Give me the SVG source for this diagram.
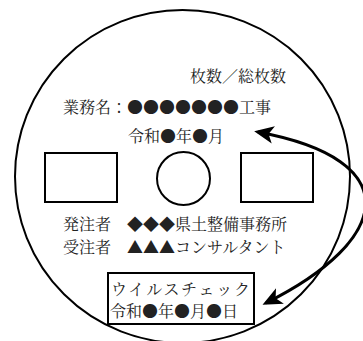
<svg xmlns="http://www.w3.org/2000/svg" width="363" height="341" viewBox="0 0 363 341">
<style>
.t{font-family:"Noto Serif CJK JP","Noto Sans CJK JP","Liberation Serif",serif;font-size:16px;fill:#222}
.s{fill:none;stroke:#000;stroke-width:2}
.c{fill:none;stroke:#000;stroke-width:3}
</style>
<defs>
<marker id="ah" viewBox="0 0 10 10" refX="8" refY="5" markerWidth="6.5" markerHeight="6.5" orient="auto-start-reverse" markerUnits="strokeWidth">
<path d="M0,0.5 L10,5 L0,9.5 L2.5,5 Z" fill="#000"/>
</marker>
</defs>
<rect width="363" height="341" fill="#fff"/>
<g id="disc">
<ellipse cx="182.5" cy="176.5" rx="167.5" ry="166.5" class="s" stroke-width="1.8"/>
</g>
<g id="pages"><text class="t" x="190" y="82">枚数／総枚数</text></g>
<g id="project"><text class="t" x="63" y="113">業務名：●●●●●●●工事</text></g>
<g id="date"><text class="t" x="128" y="142">令和●年●月</text></g>
<g id="rect-left"><rect x="45" y="153" width="72" height="49" class="s"/></g>
<g id="hole"><circle cx="183.5" cy="178.5" r="26.5" class="s" stroke-width="1.6"/></g>
<g id="rect-right"><rect x="241" y="153" width="72" height="49" class="s"/></g>
<g id="client"><text class="t" x="63" y="230">発注者　◆◆◆県土整備事務所</text></g>
<g id="contractor"><text class="t" x="63" y="253">受注者　▲▲▲コンサルタント</text></g>
<g id="viruscheck">
<rect x="108" y="273" width="146" height="51" class="s"/>
<text class="t" x="111" y="295" textLength="139" lengthAdjust="spacing">ウイルスチェック</text>
<text class="t" x="110" y="317">令和●年●月●日</text>
</g>
<g id="connectors">
<path d="M258,132 C408,160 392,240 266,303" class="c" marker-start="url(#ah)" marker-end="url(#ah)"/>
</g>
</svg>
